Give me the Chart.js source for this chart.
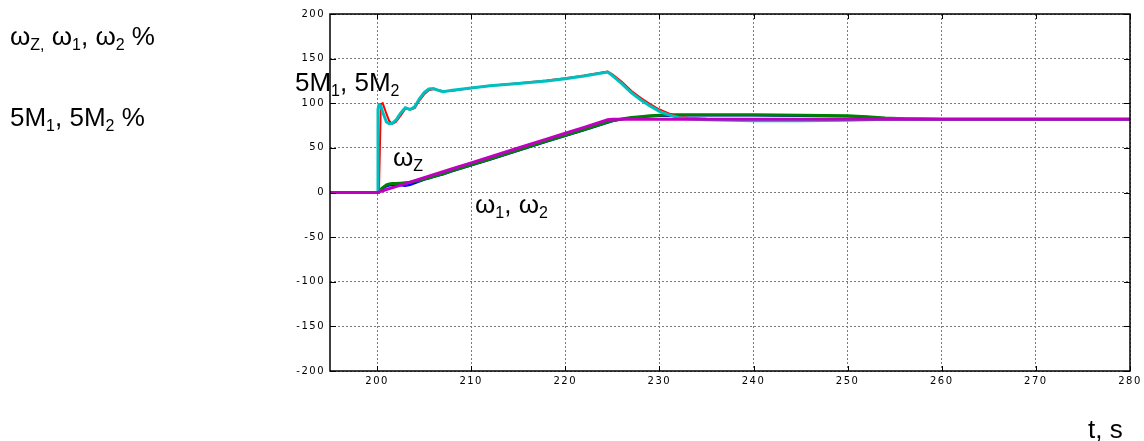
<!DOCTYPE html>
<html>
<head>
<meta charset="utf-8">
<script src="https://cdn.jsdelivr.net/npm/chart.js@4.4.0/dist/chart.umd.min.js"></script>
<style>
    html, body { margin: 0; padding: 0; background: #fff; }
    #wrap { width: 1144px; height: 441px; position: relative; }
</style>
</head>
<body>
<div id="wrap"><canvas id="myChart"></canvas></div>
<script>
"use strict";

// time, s
var t = [195, 200, 200.1, 200.2, 200.4, 200.6, 201, 201.3, 201.6, 202,
         202.5, 203, 203.5, 204, 204.5, 205, 205.5, 206, 206.5, 207,
         208, 210, 212, 215, 218, 220, 222, 224.5, 225, 226,
         227, 228, 229, 230, 231, 232, 233, 235, 240, 245,
         250, 252, 254, 256, 260, 270, 280];

// 5M1, %
var m1 = [0, 0, 0, 0, 99, 100, 88, 80, 77, 79,
          86, 94, 93, 94.5, 103, 110, 114.5, 116, 115, 113.5,
          114, 117, 119.5, 122.5, 125.5, 128, 131, 135.5, 132.5, 124,
          114, 106, 99, 93, 88.5, 85, 83.5, 82.5, 81.5, 81,
          81.5, 81.5, 82, 82, 82, 82, 82];

// 5M2, %
var m2 = [0, 0, 93, 98, 97, 90, 79, 77, 77.5, 81,
          89, 95, 93, 96, 105, 112, 116, 116.5, 114.5, 113,
          114.5, 117, 119.5, 122, 125, 127.5, 130.5, 135, 131, 122,
          112, 104, 97, 91, 87, 84, 82.5, 81.5, 80.5, 80.5,
          81, 81.5, 82, 82, 82, 82, 82];

// omega Z, %
var wz = [0, 0, 0.3, 0.7, 1.3, 2, 3.3, 4.3, 5.3, 6.6,
          8.3, 10, 11.6, 13.3, 15, 16.6, 18.3, 20, 21.6, 23.3,
          26.6, 33.2, 39.8, 49.8, 59.8, 66.4, 73, 81.5, 82, 82,
          82, 82, 82, 82, 82, 82, 82, 82, 82, 82,
          82, 82, 82, 82, 82, 82, 82];

// omega 1, %
var w1 = [0, 0, 0.3, 1, 2.5, 4.5, 7, 8, 8.5, 8.5,
          8, 7.5, 8.5, 10.5, 12.5, 14.5, 16, 17.5, 19, 20.5,
          24, 30.5, 37, 47, 57, 63.5, 70, 78.5, 80, 82,
          83.5, 84.5, 85.5, 86, 86, 86.5, 86.5, 86.5, 86.5, 86,
          85.5, 84.5, 83, 82.5, 82, 82, 82];

// omega 2, %
var w2 = [0, 0, 0.5, 1.5, 3.5, 5.5, 8.5, 9.5, 10, 10,
          10.5, 11, 11.5, 12.5, 13.5, 15, 16.5, 18, 19.5, 21,
          24.5, 31, 37.5, 47.5, 57.5, 64, 70.5, 79, 80.5, 82.5,
          84, 85, 86, 86.5, 87, 87, 87, 87, 87, 86.5,
          86, 85, 83.5, 82.5, 82, 82, 82];

var xTicks = [200, 210, 220, 230, 240, 250, 260, 270, 280];
var yTicks = [-200, -150, -100, -50, 0, 50, 100, 150, 200];

var FONT = '"Liberation Sans", Arial, sans-serif';

function points(vals) {
    return t.map(function (x, i) { return {x: x, y: vals[i]}; });
}

// text with subscripts: [text, isSub]
function drawRich(ctx, parts, x, y) {
    parts.forEach(function (p) {
        ctx.font = (p[1] ? 16 : 26) + 'px ' + FONT;
        ctx.fillText(p[0], x, y + (p[1] ? 5 : 0));
        x += ctx.measureText(p[0]).width;
    });
}

var framePlugin = {
    id: 'frame',
    beforeDraw: function (chart) {
        chart.ctx.letterSpacing = '1.5px';
    },
    beforeDatasetsDraw: function (chart) {
        chart.ctx.letterSpacing = '0px';
    },
    afterDraw: function (chart) {
        var ctx = chart.ctx;
        var a = chart.chartArea;
        var sx = chart.scales.x, sy = chart.scales.y;
        ctx.save();
        ctx.letterSpacing = '0px';
        ctx.strokeStyle = '#000';
        ctx.lineWidth = 1.5;
        ctx.strokeRect(a.left, a.top, a.right - a.left, a.bottom - a.top);
        // inward tick marks
        ctx.lineWidth = 1;
        ctx.beginPath();
        xTicks.forEach(function (v) {
            var px = Math.round(sx.getPixelForValue(v)) + 0.5;
            ctx.moveTo(px, a.bottom); ctx.lineTo(px, a.bottom - 5);
            ctx.moveTo(px, a.top); ctx.lineTo(px, a.top + 5);
        });
        yTicks.forEach(function (v) {
            var py = Math.round(sy.getPixelForValue(v)) + 0.5;
            ctx.moveTo(a.left, py); ctx.lineTo(a.left + 6, py);
            ctx.moveTo(a.right, py); ctx.lineTo(a.right - 6, py);
        });
        ctx.stroke();

        ctx.fillStyle = '#000';
        ctx.textBaseline = 'alphabetic';
        ctx.textAlign = 'left';
        drawRich(ctx, [['\u03c9', 0], ['Z', 1], [',', 1], [' ', 0], ['\u03c9', 0], ['1', 1], [', ', 0],
                       ['\u03c9', 0], ['2', 1], [' %', 0]], 10, 45);
        drawRich(ctx, [['5M', 0], ['1', 1], [', 5M', 0], ['2', 1], [' %', 0]], 10, 126);
        drawRich(ctx, [['5M', 0], ['1', 1], [', 5M', 0], ['2', 1]], 295, 91);
        drawRich(ctx, [['\u03c9', 0], ['Z', 1]], 393, 166);
        drawRich(ctx, [['\u03c9', 0], ['1', 1], [', ', 0], ['\u03c9', 0], ['2', 1]], 475, 213);
        drawRich(ctx, [['t, s', 0]], 1088, 438);
        ctx.restore();
    }
};

new Chart(document.getElementById('myChart'), {
    type: 'line',
    data: {
        datasets: [
            {label: 'wz', data: points(wz), borderColor: '#bf00bf', borderWidth: 3, order: 1},
            {label: '5M2', data: points(m2), borderColor: '#00bfbf', borderWidth: 3, order: 2},
            {label: '5M1', data: points(m1), borderColor: '#ff0000', borderWidth: 2, order: 3},
            {label: 'w2', data: points(w2), borderColor: '#008000', borderWidth: 3, order: 4},
            {label: 'w1', data: points(w1), borderColor: '#0000ff', borderWidth: 2.5, order: 5}
        ]
    },
    options: {
        responsive: true,
        maintainAspectRatio: false,
        animation: false,
        elements: {
            point: {radius: 0},
            line: {tension: 0, fill: false}
        },
        layout: {padding: {top: 14, right: 14, left: 0, bottom: 0}},
        plugins: {
            legend: {display: false},
            tooltip: {enabled: false}
        },
        scales: {
            x: {
                type: 'linear',
                min: 195,
                max: 280,
                afterBuildTicks: function (s) {
                    s.ticks = xTicks.map(function (v) { return {value: v}; });
                },
                afterFit: function (s) { s.height = 70; },
                ticks: {
                    color: '#000',
                    font: {family: 'DejaVu Sans', size: 10},
                    padding: 4,
                    maxRotation: 0,
                    autoSkip: false
                },
                grid: {color: '#7a7a7a', lineWidth: 1, drawTicks: false},
                border: {display: false, dash: [2, 2]}
            },
            y: {
                min: -200,
                max: 200,
                afterBuildTicks: function (s) {
                    s.ticks = yTicks.map(function (v) { return {value: v}; });
                },
                afterFit: function (s) { s.width = 330; },
                ticks: {
                    color: '#000',
                    font: {family: 'DejaVu Sans', size: 10},
                    padding: 5,
                    autoSkip: false
                },
                grid: {color: '#7a7a7a', lineWidth: 1, drawTicks: false},
                border: {display: false, dash: [2, 2]}
            }
        }
    },
    plugins: [framePlugin]
});
</script>
</body>
</html>
